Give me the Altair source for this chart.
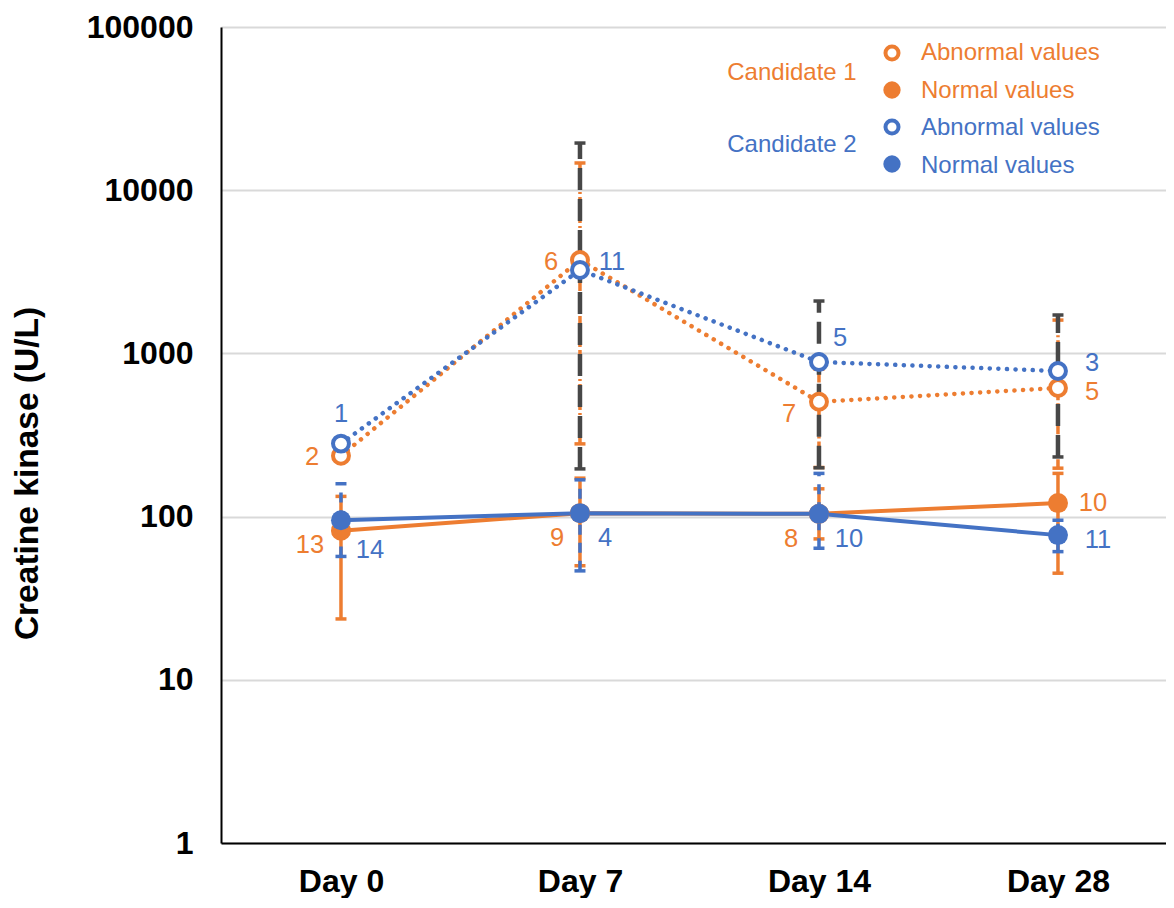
import json
import altair as alt
import pandas as pd

# ---------------- data ----------------
days = ["Day 0", "Day 7", "Day 14", "Day 28"]
day_idx = [0, 1, 2, 3]

c1_abn = [236, 3735, 505, 614]
c1_norm = [82, 105, 104, 121]
c2_abn = [280, 3245, 886, 780]
c2_norm = [95, 105, 104, 77]

c1_abn_n = [2, 6, 7, 5]
c1_norm_n = [13, 9, 8, 10]
c2_abn_n = [1, 11, 5, 3]
c2_norm_n = [14, 4, 10, 11]

c1_abn_lo = [None, 279, 200, 198]
c1_abn_hi = [None, 14680, 800, 1600]
c2_abn_lo = [None, 196, 199, 232]
c2_abn_hi = [None, 19450, 2094, 1719]
c1_norm_lo = [23.6, 50, 73, 45]
c1_norm_hi = [133, 172, 148, 184]
c2_norm_lo = [57, 46.5, 64, 61]
c2_norm_hi = [159, 168, 184, 95]

y_ticks = [1, 10, 100, 1000, 10000, 100000]

# ---------------- styling / layout ----------------
ORANGE = "#ED7D31"
BLUE = "#4472C4"
GREY = "#474747"
FONT = "Liberation Sans"

# pixel offsets of the count labels (layout only)
off_c1_abn = [(-29, 1), (-29, 2), (-30, 12), (34, 4)]
off_c2_abn = [(0, -30), (32, -8), (21, -24), (34, -8)]
off_c1_norm = [(-31, 14), (-23, 25), (-28, 25), (35, 0)]
off_c2_norm = [(29, 30), (25, 25), (30, 25), (40, 5)]


def frame(vals, ns, lo, hi):
    return pd.DataFrame({
        "idx": day_idx, "day": days, "v": vals, "n": ns, "lo": lo, "hi": hi,
    })


d_c1_abn = frame(c1_abn, c1_abn_n, c1_abn_lo, c1_abn_hi)
d_c2_abn = frame(c2_abn, c2_abn_n, c2_abn_lo, c2_abn_hi)
d_c1_norm = frame(c1_norm, c1_norm_n, c1_norm_lo, c1_norm_hi)
d_c2_norm = frame(c2_norm, c2_norm_n, c2_norm_lo, c2_norm_hi)

label_expr = json.dumps(days) + "[datum.value]"

xscale = alt.Scale(domain=[-0.502, 3.452], nice=False, zero=False)
xaxis = alt.Axis(values=day_idx, labelExpr=label_expr, grid=False, ticks=False,
                 domainColor="black", domainWidth=2, labelFont=FONT,
                 labelFontSize=32, labelFontWeight="bold", labelColor="black",
                 labelPadding=23, labelFlush=False)
yscale = alt.Scale(type="log", domain=[1, 100000], nice=False)
yaxis = alt.Axis(values=y_ticks, format="d", grid=True, gridColor="#D9D9D9",
                 gridWidth=2, ticks=False, domainColor="black", domainWidth=2,
                 labelFont=FONT, labelFontSize=32, labelFontWeight="bold",
                 labelColor="black", labelPadding=28,
                 titleFont=FONT, titleFontSize=33.5, titleFontWeight="bold",
                 titleColor="black", titleAngle=270, titleAlign="center",
                 titleBaseline="middle", titleX=-194, titleY=446)
YTITLE = "Creatine kinase (U/L)"


def X():
    return alt.X("idx:Q", scale=xscale, axis=xaxis, title=None)


def Y(field):
    return alt.Y(field + ":Q", scale=yscale, axis=yaxis, title=YTITLE)


def errbar(df, color, dash, width):
    d = df.dropna(subset=["lo", "hi"])
    base = alt.Chart(d)
    rule_kw = dict(color=color, strokeWidth=width)
    if dash:
        rule_kw["strokeDash"] = dash
    rule = base.mark_rule(**rule_kw).encode(x=X(), y=Y("lo"), y2="hi:Q")
    cap_lo = base.mark_tick(orient="horizontal", color=color, size=11,
                            thickness=3.5, opacity=1).encode(x=X(), y=Y("lo"))
    cap_hi = base.mark_tick(orient="horizontal", color=color, size=11,
                            thickness=3.5, opacity=1).encode(x=X(), y=Y("hi"))
    return [rule, cap_lo, cap_hi]


def line(df, color, dotted):
    kw = dict(color=color, strokeWidth=4.5 if dotted else 4)
    if dotted:
        kw.update(strokeDash=[0.1, 8.5], strokeCap="round")
    return alt.Chart(df).mark_line(**kw).encode(x=X(), y=Y("v"))


def points(df, color, hollow):
    if hollow:
        m = alt.Chart(df).mark_point(shape="circle", filled=True, fill="white",
                                     stroke=color, strokeWidth=4, size=254,
                                     opacity=1)
    else:
        m = alt.Chart(df).mark_point(shape="circle", filled=True, color=color,
                                     size=400, opacity=1)
    return m.encode(x=X(), y=Y("v"))


def counts(df, color, offs):
    out = []
    for i, (dx, dy) in enumerate(offs):
        row = df.iloc[[i]]
        out.append(alt.Chart(row).mark_text(
            font=FONT, fontSize=25.5, color=color, baseline="middle",
            align="center", dx=dx, dy=dy).encode(x=X(), y=Y("v"), text="n:N"))
    return out


one = alt.Data(values=[{"a": 1}])


def legend_text(txt, color, x, y, align):
    return alt.Chart(one).mark_text(text=txt, font=FONT, fontSize=24, color=color,
                                    align=align, baseline="middle").encode(
        x=alt.value(x), y=alt.value(y))


def legend_marker(color, hollow, x, y):
    if hollow:
        m = alt.Chart(one).mark_point(shape="circle", filled=True, fill="white",
                                      stroke=color, strokeWidth=4, size=170,
                                      opacity=1)
    else:
        m = alt.Chart(one).mark_point(shape="circle", filled=True, color=color,
                                      size=300, opacity=1)
    return m.encode(x=alt.value(x), y=alt.value(y))


layers = []
layers += errbar(d_c1_norm, ORANGE, None, 3.5)
layers += errbar(d_c2_norm, BLUE, [10, 8], 3.5)
layers += errbar(d_c1_abn, ORANGE, [9, 3, 2, 3], 3.5)
layers += errbar(d_c2_abn, GREY, [22, 9], 4.5)
layers += [line(d_c1_abn, ORANGE, True), line(d_c2_abn, BLUE, True),
           line(d_c1_norm, ORANGE, False), line(d_c2_norm, BLUE, False)]
layers += [points(d_c1_abn, ORANGE, True), points(d_c2_abn, BLUE, True),
           points(d_c1_norm, ORANGE, False), points(d_c2_norm, BLUE, False)]
layers += counts(d_c1_abn, ORANGE, off_c1_abn)
layers += counts(d_c2_abn, BLUE, off_c2_abn)
layers += counts(d_c1_norm, ORANGE, off_c1_norm)
layers += counts(d_c2_norm, BLUE, off_c2_norm)

# manual legend (pixel positions inside the plot area)
layers += [
    legend_text("Candidate 1", ORANGE, 571, 46, "center"),
    legend_text("Candidate 2", BLUE, 571, 118, "center"),
    legend_marker(ORANGE, True, 671, 26),
    legend_marker(ORANGE, False, 671, 63),
    legend_marker(BLUE, True, 671, 100),
    legend_marker(BLUE, False, 671, 137),
    legend_text("Abnormal values", ORANGE, 700, 26, "left"),
    legend_text("Normal values", ORANGE, 700, 64, "left"),
    legend_text("Abnormal values", BLUE, 700, 101, "left"),
    legend_text("Normal values", BLUE, 700, 139, "left"),
]

chart = alt.layer(*layers).properties(
    width=945, height=816,
    autosize=alt.AutoSizeParams(type="none"),
    padding={"left": 213, "top": 19, "right": 0, "bottom": 55},
    background="white",
).configure_view(stroke=None)

chart.save("out.html", embed_options={"renderer": "svg", "actions": False})
